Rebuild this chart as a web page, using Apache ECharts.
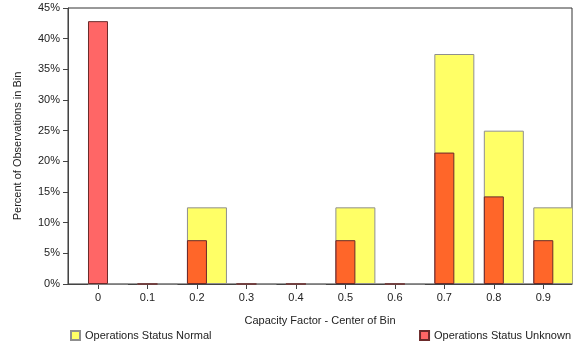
<!DOCTYPE html>
<html><head><meta charset="utf-8">
<script src="https://cdn.jsdelivr.net/npm/echarts@6/dist/echarts.min.js"></script>
<style>html,body{margin:0;padding:0;background:#fff}#c{width:573px;height:347px}</style>
</head><body><div id="c"></div>
<script>
const bins = [0, 0.1, 0.2, 0.3, 0.4, 0.5, 0.6, 0.7, 0.8, 0.9];
const binLabels = ['0','0.1','0.2','0.3','0.4','0.5','0.6','0.7','0.8','0.9'];
const normalPct = [0, 0, 12.5, 0, 0, 12.5, 0, 37.5, 25, 12.5];
const unknownPct = [42.857, 0, 7.143, 0, 0, 7.143, 0, 21.429, 14.286, 7.143];
const yTicks = [0, 5, 10, 15, 20, 25, 30, 35, 40, 45];

const font = 'Liberation Sans, Arial, sans-serif';
const chart = echarts.init(document.getElementById('c'));
chart.setOption({
  animation: false,
  textStyle: {fontFamily: font},
  grid: {left: 68, top: 8, right: 1, bottom: 63, show: true, borderColor: '#333', borderWidth: 1},
  xAxis: {
    type: 'value', min: -0.0606, max: 0.958,
    name: 'Capacity Factor - Center of Bin', nameLocation: 'middle', nameGap: 31,
    nameTextStyle: {fontSize: 11, color: '#222', fontFamily: font},
    axisLine: {show: true, onZero: false, lineStyle: {color: '#444'}},
    axisTick: {show: true, length: 5, lineStyle: {color: '#444'}, customValues: bins},
    axisLabel: {fontSize: 11, color: '#222', margin: 8, customValues: bins,
      formatter: v => binLabels[bins.findIndex(b => Math.abs(b - v) < 1e-6)] ?? ''},
    splitLine: {show: false}
  },
  yAxis: {
    type: 'value', min: 0, max: 45, interval: 5,
    name: 'Percent of Observations in Bin', nameLocation: 'middle', nameGap: 45,
    nameTextStyle: {fontSize: 11, color: '#222', fontFamily: font},
    axisLine: {show: true, onZero: false, lineStyle: {color: '#444'}},
    axisTick: {show: true, length: 5, lineStyle: {color: '#444'}},
    axisLabel: {fontSize: 11, color: '#222', margin: 8, formatter: v => yTicks.includes(v) ? v + '%' : ''},
    splitLine: {show: false}
  },
  legend: [
    {data: ['Operations Status Normal'], left: 65, top: 325, itemWidth: 9, itemHeight: 9, icon: 'rect', itemGap: 4,
      textStyle: {fontSize: 11, color: '#222', fontFamily: font}},
    {data: ['Operations Status Unknown'], right: -3, top: 325, itemWidth: 9, itemHeight: 9, icon: 'rect',
      textStyle: {fontSize: 11, color: '#222', fontFamily: font}}
  ],
  series: [
    {name: 'Operations Status Normal', type: 'bar', barWidth: 40, barGap: '-100%',
      data: bins.map((b, i) => [b, normalPct[i]]),
      itemStyle: {color: '#ffff66', borderColor: '#8f8f8f', borderWidth: 1}},
    {name: 'Operations Status Unknown', type: 'bar', barWidth: 20, barGap: '-100%',
      data: bins.map((b, i) => [b, unknownPct[i]]),
      itemStyle: {color: 'rgba(255,0,0,0.6)', borderColor: '#6b2a2a', borderWidth: 1}}
  ]
});
</script></body></html>
